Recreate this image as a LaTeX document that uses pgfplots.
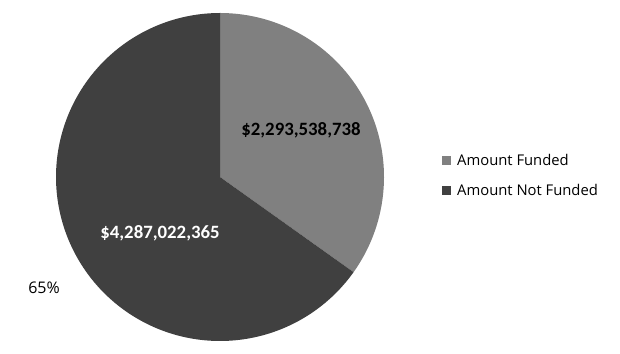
\documentclass[border=0pt]{standalone}
\usepackage{pgfplots}
\pgfplotsset{compat=1.18}
\usepackage{fontspec}
\setmainfont{Open Sans}
\newfontfamily\numfont{Carlito}
\definecolor{funded}{HTML}{808080}
\definecolor{notfunded}{HTML}{404040}
% values in millions of dollars
\pgfmathsetmacro{\vfunded}{2293.538738}
\pgfmathsetmacro{\vnot}{4287.022365}
\pgfmathsetmacro{\fracA}{\vfunded/(\vfunded+\vnot)}
\pgfmathsetmacro{\angA}{90-360*\fracA}
\pgfmathsetmacro{\angB}{\angA-360*(1-\fracA)}
\begin{document}
\begin{tikzpicture}
\begin{axis}[
  scale only axis, width=620pt, height=353pt,
  xmin=0, xmax=620, ymin=0, ymax=353,
  hide axis, clip=false,
  legend style={at={(axis cs:442,201)}, anchor=north west, draw=none, fill=none,
    font=\fontsize{14.8}{17}\selectfont, row sep=13pt, inner sep=0pt,
    /tikz/every even column/.append style={column sep=2pt},
    /tikz/every odd column/.append style={column sep=4pt}},
  legend cell align=left,
  legend image code/.code={\fill[#1] (0pt,-4.5pt) rectangle (9pt,4.5pt);},
]
\path (axis cs:0,0) rectangle (axis cs:620,353);
\addplot[fill=funded, draw=none, domain=90:\angA, samples=150, variable=\t]
  ({220+164*cos(t)},{176+164*sin(t)}) -- (axis cs:220,176) -- cycle;
\addlegendentry{Amount Funded}
\addplot[fill=notfunded, draw=none, domain=\angA:\angB, samples=250, variable=\t]
  ({220+164*cos(t)},{176+164*sin(t)}) -- (axis cs:220,176) -- cycle;
\addlegendentry{Amount Not Funded}
\node[font=\numfont\bfseries\fontsize{18.8}{21}\selectfont, text=black] at (axis cs:301,223) {\$2,293,538,738};
\node[font=\numfont\bfseries\fontsize{18.8}{21}\selectfont, text=white] at (axis cs:160,120) {\$4,287,022,365};
\node[font=\fontsize{16}{18}\selectfont] at (axis cs:44,65) {65\%};
\end{axis}
\end{tikzpicture}
\end{document}
